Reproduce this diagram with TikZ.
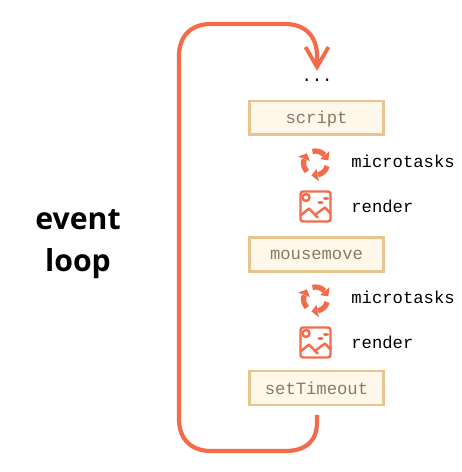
\documentclass[tikz,border=0pt]{standalone}
\usepackage{fontspec}
\setmainfont{Open Sans}
\setmonofont{Liberation Mono}
\definecolor{loopred}{HTML}{F26C4B}
\definecolor{taskfill}{HTML}{FFF8EA}
\definecolor{taskline}{HTML}{E8C48F}
\definecolor{tasktext}{HTML}{8A7A63}
\tikzset{
	taskbox/.style={draw=taskline,fill=taskfill,line width=1.7pt,minimum width=2.68cm,minimum height=0.68cm,inner sep=0pt,text=tasktext,font=\ttfamily\fontsize{9.8}{12}\selectfont},
	tasklabel/.style={anchor=west,inner sep=0pt,font=\ttfamily\fontsize{9.8}{12}\selectfont},
	iconline/.style={draw=loopred,line width=1.4pt,line join=round,line cap=round}
}
\begin{document}
\begin{tikzpicture}[x=0.02cm,y=0.02cm]
	\useasboundingbox (0,0) rectangle (461,472);
	\path
	(316.5,354) node[taskbox,text height=1.6ex,text depth=0.9ex] (script) {\raisebox{-1pt}{script}}
	(316.5,217.5) node[taskbox] (mousemove) {\raisebox{-1pt}{mousemove}}
	(316.5,84) node[taskbox] (timeout) {\raisebox{-1pt}{setTimeout}}
	(317,392) node[inner sep=0pt,font=\ttfamily\fontsize{9.8}{12}\selectfont] (dots) {...}
	(78,228) node[align=center,inner sep=0pt,font=\fontsize{17.2}{23.8}\selectfont\bfseries] (title) {event\\loop}
	(351,310.5) node[tasklabel] (microA) {microtasks}
	(351,265.5) node[tasklabel] (renderA) {render}
	(351,174.5) node[tasklabel] (microB) {microtasks}
	(351,129.5) node[tasklabel] (renderB) {render}
	(317,57) coordinate (start)
	(317,405) coordinate (tip);
	%loop
	\draw[loopred,line width=2.4pt,line join=round] (start) -- (317,50) .. controls (317,30) and (305,21) .. (285,21) -- (211,21) .. controls (191,21) and (179,33) .. (179,53) -- (179,416) .. controls (179,436) and (191,448) .. (211,448) -- (285,448) .. controls (305,448) and (317,436) .. (317,416) -- (tip);
	\draw[loopred,line width=2.2pt,line join=miter] (305.5,425) -- (tip) -- (328.5,425);
	%icons
	\foreach \y in {0,-136}{
		\begin{scope}[shift={(315.5,309+\y)}]
			\foreach \r in {0,120,240}{
				\begin{scope}[rotate=\r]
					\draw[loopred,line width=3pt] (105:12) arc (105:42:0.24cm);
					\fill[loopred] (40:18.5) -- (40:6) -- (12:13) -- cycle;
				\end{scope}
			}
		\end{scope}
		\begin{scope}[shift={(315.5,265.5+\y)}]
			\draw[iconline,rounded corners=1.5pt] (-15,-15) rectangle (15,15);
			\draw[iconline] (-9.5,9) circle (0.07cm);
			\draw[iconline] (-15,-9) -- (-6.5,-2) -- (2,-11) (0,-8) -- (9.5,-1) -- (15,-7);
			\fill[loopred] (5,4) ellipse (0.06cm and 0.03cm) (10.5,8) ellipse (0.06cm and 0.03cm);
		\end{scope}
	}
\end{tikzpicture}
\end{document}
